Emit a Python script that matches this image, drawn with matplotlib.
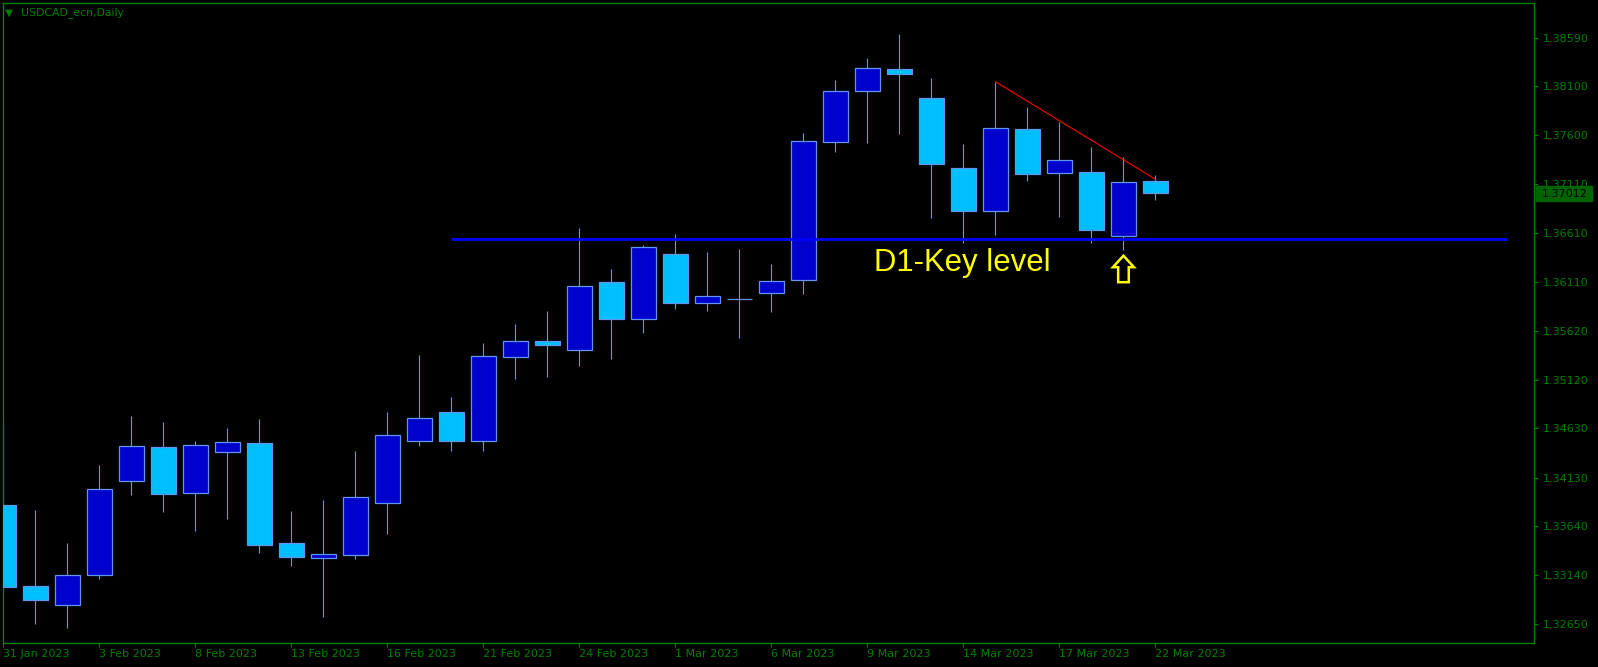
import pandas as pd
import matplotlib.pyplot as plt
import matplotlib.transforms as mtransforms
from matplotlib.patches import Polygon, Rectangle

# --------------------- DATA ---------------------

dates = pd.bdate_range("2023-01-31", "2023-03-22")
date_labels = [f"{d.day} {d.strftime('%b %Y')}" for d in dates]

opens = [1.33850, 1.33029, 1.32836, 1.33140, 1.34093, 1.34438, 1.33972, 1.34387,
         1.34478, 1.33465, 1.33313, 1.33343, 1.33870, 1.34499, 1.34793, 1.34499,
         1.35350, 1.35515, 1.35427, 1.36114, 1.35742, 1.36397, 1.35904, 1.35941,
         1.35999, 1.36131, 1.37530, 1.38047, 1.38270, 1.37976, 1.37266, 1.36830,
         1.37662, 1.37215, 1.37226, 1.36577, 1.37134]
highs = [1.34715, 1.33802, 1.33468, 1.34259, 1.34755, 1.34694, 1.34502, 1.34634,
         1.34725, 1.33792, 1.33904, 1.34400, 1.34796, 1.35374, 1.34948, 1.35495,
         1.35688, 1.35820, 1.36661, 1.36245, 1.36489, 1.36600, 1.36418, 1.36448,
         1.36296, 1.37621, 1.38161, 1.38384, 1.38628, 1.38178, 1.37512, 1.38144,
         1.37885, 1.37739, 1.37482, 1.37381, 1.37198]
lows = [1.32974, 1.32650, 1.32609, 1.33106, 1.33957, 1.33785, 1.33593, 1.33714,
        1.33369, 1.33238, 1.32721, 1.33309, 1.33562, 1.34454, 1.34403, 1.34403,
        1.35130, 1.35154, 1.35265, 1.35336, 1.35600, 1.35843, 1.35823, 1.35549,
        1.35813, 1.35995, 1.37434, 1.37526, 1.37617, 1.36765, 1.36512, 1.36593,
        1.37140, 1.36776, 1.36512, 1.36441, 1.36945]
closes = [1.33025, 1.32893, 1.33140, 1.34012, 1.34448, 1.33968, 1.34458, 1.34489,
          1.33445, 1.33323, 1.33353, 1.33931, 1.34560, 1.34732, 1.34505, 1.35360,
          1.35512, 1.35478, 1.36070, 1.35742, 1.36465, 1.35904, 1.35969, 1.35941,
          1.36124, 1.37540, 1.38047, 1.38280, 1.38225, 1.37307, 1.36836, 1.37672,
          1.37205, 1.37347, 1.36638, 1.37124, 1.37012]

price_ticks = [1.38590, 1.38100, 1.37600, 1.37110, 1.36610, 1.36110, 1.35620,
               1.35120, 1.34630, 1.34130, 1.33640, 1.33140, 1.32650]

key_level = 1.36545
key_level_span = [14, 47]
trend_start, trend_end = 31, 36
trend_end_price = 1.37155
arrow_bar = 35
current_price = 1.37012

GREEN = "#008000"
BULL = "#0000CD"
BEAR = "#00BFFF"
EDGE = "#6495ED"

# --------------------- CHART ---------------------

fig = plt.figure(figsize=(15.98, 6.67), dpi=100, facecolor="black")
ax = fig.add_axes([2.5 / 1598, 24.5 / 667, 1531.5 / 1598, 640 / 667])
ax.set_facecolor("black")

x = list(range(len(opens)))
body_colors = [BULL if c > o else BEAR for o, c in zip(opens, closes)]

ax.vlines(x, lows, highs, color=EDGE, linewidth=0.8, zorder=2)
ax.bar(x, [c - o for o, c in zip(opens, closes)], bottom=opens, width=0.76,
       color=body_colors, edgecolor=EDGE, linewidth=0.9, zorder=3)

# key level
ax.hlines(key_level, key_level_span[0], key_level_span[1], color="#0000FF",
          linewidth=2.0, zorder=4)
ax.text(27.2, 1.36228, "D1-Key level", color="#FFFF00", fontsize=22.4,
        family="Liberation Sans", va="baseline", ha="left", zorder=5)

# descending trend line
ax.plot([trend_start, trend_end], [highs[trend_start], trend_end_price],
        color="#FF0000", linewidth=0.8, zorder=4)

# hollow arrow under the last low (shape in pixels)
arrow_shape = [(0, -6), (10.5, -17.5), (5.3, -17.5), (5.3, -32.5),
               (-5.3, -32.5), (-5.3, -17.5), (-10.5, -17.5)]
arrow_tr = mtransforms.ScaledTranslation(arrow_bar, lows[arrow_bar], ax.transData)
ax.add_patch(Polygon(arrow_shape, closed=True, facecolor="none",
                     edgecolor="#FFFF00", linewidth=1.8,
                     transform=mtransforms.IdentityTransform() + arrow_tr,
                     zorder=5))

# axes
ax.set_xlim(-0.031, 47.83)
ax.set_ylim(1.324592, 1.389468)

for s in ax.spines.values():
    s.set_color(GREEN)
    s.set_linewidth(1.0)

ax.yaxis.tick_right()
ax.set_yticks(price_ticks)
ax.set_yticklabels([f"{p:.5f}" for p in price_ticks])
ax.set_xticks(x[::3])
ax.set_xticklabels(date_labels[::3], ha="left")
ax.tick_params(axis="both", colors=GREEN, labelcolor=GREEN, labelsize=8,
               length=3, width=0.8, direction="out")
ax.tick_params(axis="x", pad=2)
ax.tick_params(axis="y", pad=3)

# current price box (size in pixels, anchored at right edge / price)
blend = mtransforms.blended_transform_factory(ax.transAxes, ax.transData)
box_tr = mtransforms.IdentityTransform() + mtransforms.ScaledTranslation(
    1.0, current_price, blend)
ax.add_patch(Rectangle((2, -7.4), 56, 14.8, facecolor="#006400",
                       edgecolor="#006400", transform=box_tr, zorder=6,
                       clip_on=False))
ax.annotate(f"{current_price:.5f}", xy=(1.0, current_price),
            xycoords=("axes fraction", "data"), xytext=(7.5, -0.5),
            textcoords="offset pixels", va="center", ha="left",
            fontsize=8, color="black", zorder=7, annotation_clip=False)

# title
fig.text(5 / 1598, 1 - 12.5 / 667, "\u25bc", color=GREEN, fontsize=7.5,
         va="center", ha="left")
fig.text(20.5 / 1598, 1 - 13 / 667, "USDCAD_ecn,Daily", color=GREEN,
         fontsize=7.8, va="center", ha="left")

fig.savefig("out.png", dpi=100, facecolor="black")
